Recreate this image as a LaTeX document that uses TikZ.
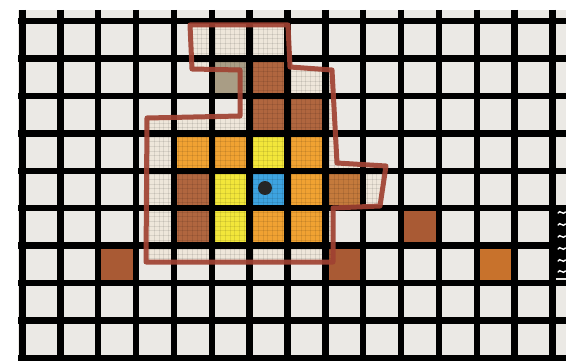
\documentclass[tikz,border=0pt]{standalone}
\definecolor{cellbg}{HTML}{EBE9E5}
\definecolor{innerlight}{HTML}{EEE6DA}
\definecolor{orng}{HTML}{F0A232}
\definecolor{yllw}{HTML}{F2E63A}
\definecolor{brwn}{HTML}{B0663F}
\definecolor{brwnout}{HTML}{A95A34}
\definecolor{brwnmid}{HTML}{C47A3C}
\definecolor{orngout}{HTML}{C8722C}
\definecolor{blu}{HTML}{3DA3E0}
\definecolor{tan}{HTML}{A99D85}
\definecolor{outl}{HTML}{A04232}
\newcommand\gx[1]{22.5+37.86*(#1)}
\newcommand\gy[1]{21+37.45*(#1)}
\newcommand\cellfill[3]{\fill[#3] ({\gx{#1}},{\gy{#2}}) rectangle ({\gx{#1+1}},{\gy{#2+1}});}
\newcommand\outlinepath{(190,25) -- (288,25) -- (290,67) -- (332,70) -- (337,163) -- (386,166) -- (380,206) -- (333,208) -- (333,262) -- (146,262) -- (147,118) -- (240,116) -- (240,70) -- (192,69) -- cycle}
\tikzset{
  gridline/.style={line width=6.5pt, black},
  finetex/.style={line width=0.5pt, black, opacity=0.09},
  regionline/.style={outl, line width=5pt, line join=round, opacity=0.92}
}
\begin{document}
\begin{tikzpicture}[x=1pt,y=-1pt]
\useasboundingbox (0,0) rectangle (566,361);
\fill[white] (0,0) rectangle (566,361);
% cell background
\fill[cellbg] (18,10) rectangle (566,361);
% light region
\fill[innerlight] \outlinepath;
% tan cell outside region
\cellfill{5}{1}{tan}
% coloured cells inside region
\cellfill{6}{1}{brwn}
\cellfill{6}{2}{brwn}
\cellfill{7}{2}{brwn}
\cellfill{4}{3}{orng}
\cellfill{5}{3}{orng}
\cellfill{6}{3}{yllw}
\cellfill{7}{3}{orng}
\cellfill{4}{4}{brwn}
\cellfill{5}{4}{yllw}
\cellfill{6}{4}{blu}
\cellfill{7}{4}{orng}
\cellfill{8}{4}{brwnmid}
\cellfill{4}{5}{brwn}
\cellfill{5}{5}{yllw}
\cellfill{6}{5}{orng}
\cellfill{7}{5}{orng}
% cells outside region
\cellfill{2}{6}{brwnout}
\cellfill{8}{6}{brwnout}
\cellfill{10}{5}{brwnout}
\cellfill{12}{6}{orngout}
% fine texture inside region
\begin{scope}
  \clip \outlinepath;
  \foreach \k in {0,...,55} {
    \draw[finetex] ({140+4.73*\k},20) -- ({140+4.73*\k},265);
  }
  \foreach \k in {0,...,52} {
    \draw[finetex] (140,{20+4.68*\k}) -- (390,{20+4.68*\k});
  }
\end{scope}
% grid lines
\foreach \i in {0,...,14} {
  \draw[gridline] ({\gx{\i}},10) -- ({\gx{\i}},361);
}
\foreach \j in {0,...,9} {
  \draw[gridline] (18,{\gy{\j}}) -- (566,{\gy{\j}});
}
% dot in blue cell
\fill[black!85] (265,188) circle (7);
% region outline
\draw[regionline] \outlinepath;
% right edge torn marker
\fill[black] (555.5,208) rectangle (566,278);
\foreach \yy in {213,225,237,249,261,272} {
  \draw[white, line width=1.4pt, line cap=round] (558,\yy) .. controls (560,{\yy-4}) and (563,{\yy+3}) .. (565.5,{\yy-1});
}
\end{tikzpicture}
\end{document}
